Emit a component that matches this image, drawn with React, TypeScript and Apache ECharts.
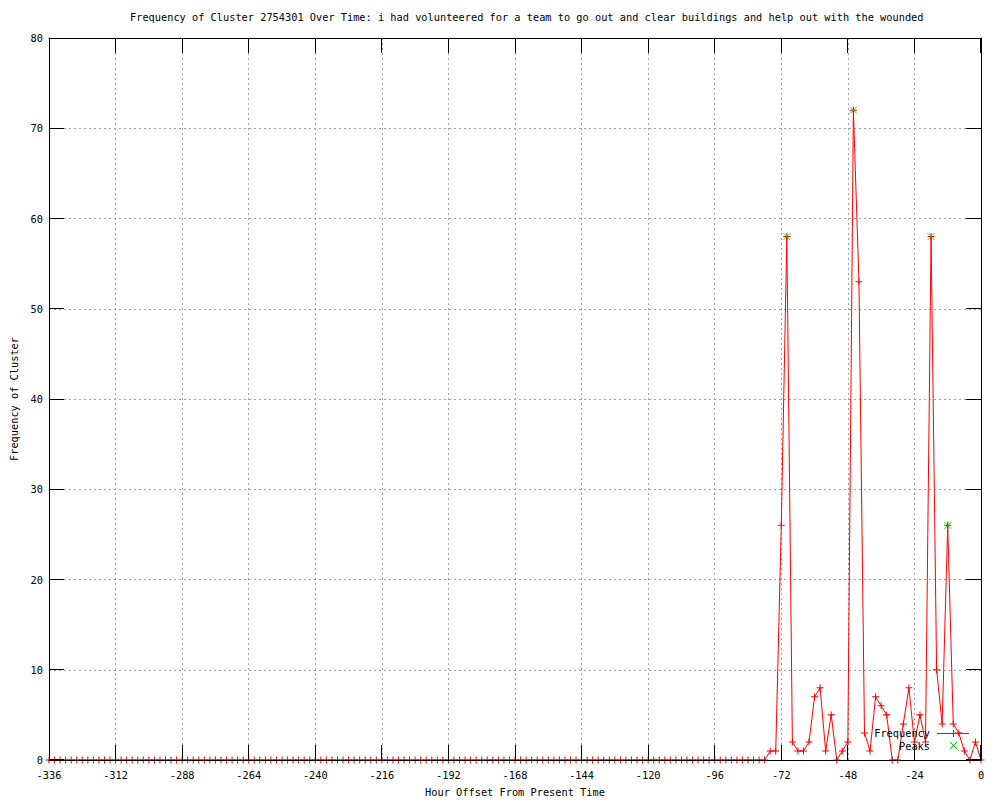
import React, { useEffect, useRef } from "react";
import * as echarts from "echarts";

const titleText =
  "Frequency of Cluster 2754301 Over Time: i had volunteered for a team to go out and clear buildings and help out with the wounded";
const xAxisName = "Hour Offset From Present Time";
const yAxisName = "Frequency of Cluster";

const xMin = -336;
const xMax = 0;
const xStep = 24;
const yMin = 0;
const yMax = 80;
const yStep = 10;

const xTicks = [-336, -312, -288, -264, -240, -216, -192, -168, -144, -120, -96, -72, -48, -24, 0];
const yTicks = [0, 10, 20, 30, 40, 50, 60, 70, 80];

const hours = [
  -336, -334, -332, -330, -328, -326, -324, -322, -320, -318,
  -316, -314, -312, -310, -308, -306, -304, -302, -300, -298,
  -296, -294, -292, -290, -288, -286, -284, -282, -280, -278,
  -276, -274, -272, -270, -268, -266, -264, -262, -260, -258,
  -256, -254, -252, -250, -248, -246, -244, -242, -240, -238,
  -236, -234, -232, -230, -228, -226, -224, -222, -220, -218,
  -216, -214, -212, -210, -208, -206, -204, -202, -200, -198,
  -196, -194, -192, -190, -188, -186, -184, -182, -180, -178,
  -176, -174, -172, -170, -168, -166, -164, -162, -160, -158,
  -156, -154, -152, -150, -148, -146, -144, -142, -140, -138,
  -136, -134, -132, -130, -128, -126, -124, -122, -120, -118,
  -116, -114, -112, -110, -108, -106, -104, -102, -100, -98,
  -96, -94, -92, -90, -88, -86, -84, -82, -80, -78,
  -76, -74, -72, -70, -68, -66, -64, -62, -60, -58,
  -56, -54, -52, -50, -48, -46, -44, -42, -40, -38,
  -36, -34, -32, -30, -28, -26, -24, -22, -20, -18,
  -16, -14, -12, -10, -8, -6, -4, -2, 0,
];

const frequency = [
  0, 0, 0, 0, 0, 0, 0, 0, 0, 0,
  0, 0, 0, 0, 0, 0, 0, 0, 0, 0,
  0, 0, 0, 0, 0, 0, 0, 0, 0, 0,
  0, 0, 0, 0, 0, 0, 0, 0, 0, 0,
  0, 0, 0, 0, 0, 0, 0, 0, 0, 0,
  0, 0, 0, 0, 0, 0, 0, 0, 0, 0,
  0, 0, 0, 0, 0, 0, 0, 0, 0, 0,
  0, 0, 0, 0, 0, 0, 0, 0, 0, 0,
  0, 0, 0, 0, 0, 0, 0, 0, 0, 0,
  0, 0, 0, 0, 0, 0, 0, 0, 0, 0,
  0, 0, 0, 0, 0, 0, 0, 0, 0, 0,
  0, 0, 0, 0, 0, 0, 0, 0, 0, 0,
  0, 0, 0, 0, 0, 0, 0, 0, 0, 0,
  1, 1, 26, 58, 2, 1, 1, 2, 7, 8,
  1, 5, 0, 1, 2, 72, 53, 3, 1, 7,
  6, 5, 0, 0, 4, 8, 2, 5, 2, 58,
  10, 4, 26, 4, 3, 1, 0, 2, 0,
];

const peakHours = [-70, -46, -18, -12];
const peakValues = [58, 72, 58, 26];

const FONT = "DejaVu Sans Mono";
const FS = 10.3;
const RED = "#ff0000";
const GREEN = "#00c000";
const TICK = 15;

const GRID_L = 49;
const GRID_R = 19;
const GRID_T = 38;
const GRID_B = 40;
const W = 1000;
const H = 800;

const plusPath = "path://M0,3H7V4H0ZM3,0H4V7H3Z";
const crossPath = "path://M0,0L7,7M7,0L0,7";

export default function App() {
  const ref = useRef<HTMLDivElement>(null);

  useEffect(() => {
    if (!ref.current) return;
    const chart = echarts.init(ref.current, null, { renderer: "svg" });
    const textStyle = { fontFamily: FONT, fontSize: FS, color: "#000" };
    const legendFont = `${FS}px "${FONT}"`;

    const frameX = (position: string) => ({
      type: "value",
      min: xMin,
      max: xMax,
      interval: xStep,
      position,
      z: 5,
      axisLine: { show: true, onZero: false, lineStyle: { color: "#000", width: 1 } },
      axisTick: { show: false },
      axisLabel: { show: false },
      splitLine: { show: false },
    });
    const frameY = (position: string) => ({
      type: "value",
      min: yMin,
      max: yMax,
      interval: yStep,
      position,
      z: 5,
      axisLine: { show: true, onZero: false, lineStyle: { color: "#000", width: 1 } },
      axisTick: { show: false },
      axisLabel: { show: false },
      splitLine: { show: false },
    });

    // Inward tick marks on all four sides of the frame, at the tick values.
    const gx = (x: number) => GRID_L + ((x - xMin) / (xMax - xMin)) * (W - GRID_L - GRID_R);
    const gy = (y: number) => H - GRID_B - ((y - yMin) / (yMax - yMin)) * (H - GRID_T - GRID_B);
    const L = Math.floor(gx(xMin));
    const R = Math.floor(gx(xMax));
    const B = Math.floor(gy(yMin));
    const T = Math.floor(gy(yMax));
    const tickEls: any[] = [];
    xTicks.forEach((v) => {
      const x = Math.min(Math.floor(gx(v)), R - 1);
      tickEls.push({ type: "rect", z: 19, shape: { x, y: B - TICK, width: 1, height: TICK }, style: { fill: "#000" } });
      tickEls.push({ type: "rect", z: 19, shape: { x, y: T, width: 1, height: TICK }, style: { fill: "#000" } });
    });
    yTicks.forEach((v) => {
      const y = Math.min(Math.floor(gy(v)), B - 1);
      tickEls.push({ type: "rect", z: 19, shape: { x: L, y, width: TICK, height: 1 }, style: { fill: "#000" } });
      tickEls.push({ type: "rect", z: 19, shape: { x: R - TICK, y, width: TICK, height: 1 }, style: { fill: "#000" } });
    });

    const legendEls: any[] = [
      {
        type: "text",
        z: 20,
        style: { text: "Frequency", x: 930, y: 733, textAlign: "right", textVerticalAlign: "middle", font: legendFont, fill: "#000" },
      },
      { type: "rect", z: 20, shape: { x: 937, y: 733, width: 32, height: 1 }, style: { fill: RED } },
      { type: "rect", z: 20, shape: { x: 953, y: 730, width: 1, height: 7 }, style: { fill: RED } },
      {
        type: "text",
        z: 20,
        style: { text: "Peaks", x: 930, y: 746, textAlign: "right", textVerticalAlign: "middle", font: legendFont, fill: "#000" },
      },
      { type: "line", z: 20, shape: { x1: 950, y1: 742, x2: 957, y2: 749 }, style: { stroke: GREEN, lineWidth: 1 } },
      { type: "line", z: 20, shape: { x1: 957, y1: 742, x2: 950, y2: 749 }, style: { stroke: GREEN, lineWidth: 1 } },
    ];

    const option: any = {
      animation: false,
      backgroundColor: "#fff",
      title: {
        text: titleText,
        left: 130,
        top: 12,
        padding: 0,
        textStyle: { ...textStyle, fontWeight: "normal" },
      },
      grid: {
        left: GRID_L,
        right: GRID_R,
        top: GRID_T,
        bottom: GRID_B,
        show: false,
        outerBoundsMode: "none",
        containLabel: false,
      },
      xAxis: [
        {
          type: "value",
          min: xMin,
          max: xMax,
          interval: xStep,
          position: "bottom",
          axisLine: { show: false, onZero: false },
          axisTick: { show: false },
          axisLabel: { margin: 10, ...textStyle },
          splitLine: { show: true, lineStyle: { color: "#a0a0a0", width: 1, type: [2, 3] } },
          name: xAxisName,
          nameLocation: "middle",
          nameGap: 27,
          nameTextStyle: textStyle,
        },
        frameX("bottom"),
        frameX("top"),
      ],
      yAxis: [
        {
          type: "value",
          min: yMin,
          max: yMax,
          interval: yStep,
          position: "left",
          axisLine: { show: false, onZero: false },
          axisTick: { show: false },
          axisLabel: { margin: 6, ...textStyle },
          splitLine: { show: true, lineStyle: { color: "#a0a0a0", width: 1, type: [2, 3] } },
          name: yAxisName,
          nameLocation: "middle",
          nameGap: 30,
          nameRotate: 90,
          nameTextStyle: textStyle,
        },
        frameY("left"),
        frameY("right"),
      ],
      series: [
        {
          name: "Frequency",
          type: "line",
          xAxisIndex: 0,
          yAxisIndex: 0,
          data: hours.map((h, i) => [h, frequency[i]]),
          symbol: plusPath,
          symbolSize: 7,
          showAllSymbol: true,
          lineStyle: { color: RED, width: 1 },
          itemStyle: { color: RED },
          emphasis: { disabled: true },
          z: 2,
        },
        {
          name: "Peaks",
          type: "scatter",
          xAxisIndex: 0,
          yAxisIndex: 0,
          data: peakHours.map((h, i) => [h, peakValues[i]]),
          symbol: crossPath,
          symbolSize: 7,
          itemStyle: { color: "none", borderColor: GREEN, borderWidth: 1 },
          emphasis: { disabled: true },
          z: 3,
        },
      ],
      graphic: [...tickEls, ...legendEls],
    };

    chart.setOption(option);
    return () => chart.dispose();
  }, []);

  return (
    <div
      ref={ref}
      style={{ position: "fixed", left: 0, top: 0, width: 1000, height: 800, background: "#fff" }}
    />
  );
}
